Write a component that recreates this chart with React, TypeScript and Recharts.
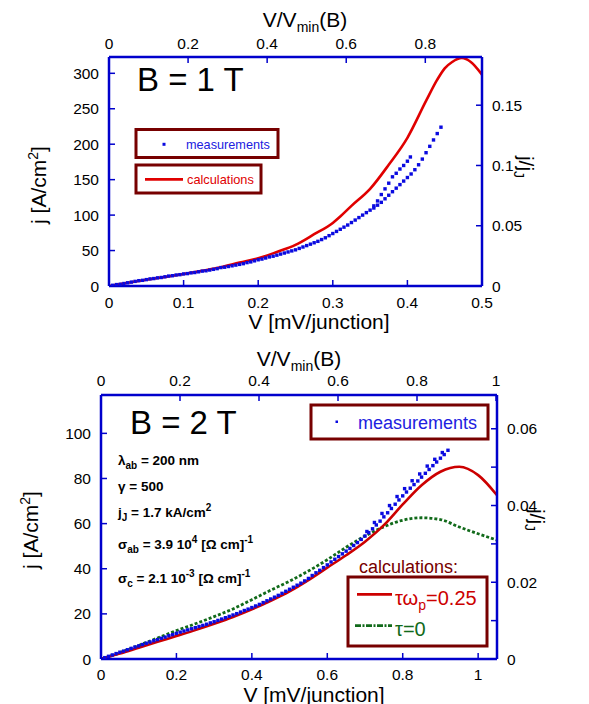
import React from 'react';
import { ComposedChart, Line, Scatter, XAxis, YAxis } from 'recharts';

const FONT = '"Liberation Sans", Arial, Helvetica, sans-serif';

// ---------- B = 1 T panel ----------
const xTicks1T = [0, 0.1, 0.2, 0.3, 0.4, 0.5];
const topTicks1T = [0, 0.2, 0.4, 0.6, 0.8];
const yTicks1T = [0, 50, 100, 150, 200, 250, 300];
const rTicks1T = [0, 0.05, 0.1, 0.15];

const calc1T: number[][] = [
  [0, 0], [0.025, 4.5], [0.05, 8.8], [0.075, 12.8], [0.1, 17], [0.125, 21.5], [0.15, 26.5],
  [0.175, 33], [0.2, 39], [0.225, 48], [0.25, 58], [0.275, 73], [0.3, 89], [0.31, 98],
  [0.325, 113], [0.35, 137], [0.375, 171], [0.4, 209], [0.425, 261], [0.44, 291], [0.45, 307],
  [0.46, 316], [0.473, 321.5], [0.485, 316], [0.5, 298],
];

const meas1TMain: number[][] = [
  [0.005, 1], [0.01, 2], [0.015, 2.5], [0.02, 3.5], [0.025, 4.5], [0.03, 5.5], [0.035, 6.5],
  [0.04, 7.5], [0.045, 8], [0.05, 9], [0.055, 10], [0.06, 10.5], [0.065, 11.5], [0.07, 12],
  [0.075, 13], [0.08, 14], [0.085, 14.5], [0.09, 15.5], [0.095, 16], [0.1, 17], [0.105, 17.5],
  [0.11, 18.5], [0.115, 19], [0.12, 20], [0.125, 21], [0.13, 21.5], [0.135, 22.5], [0.14, 23.5],
  [0.145, 24.5], [0.15, 26], [0.155, 26.5], [0.16, 27.5], [0.165, 28.5], [0.17, 29.5],
  [0.175, 30.5], [0.18, 31.5], [0.185, 33], [0.19, 34], [0.195, 35.5], [0.2, 37], [0.205, 38],
  [0.21, 39.5], [0.215, 41], [0.22, 42], [0.225, 43.5], [0.23, 45], [0.235, 46.5], [0.24, 48],
  [0.245, 49.5], [0.25, 51], [0.255, 53], [0.26, 55], [0.265, 57], [0.27, 59], [0.275, 61],
  [0.28, 63], [0.285, 65.5], [0.29, 68], [0.295, 71], [0.3, 74], [0.305, 77], [0.31, 80],
  [0.315, 83], [0.32, 86], [0.325, 89.5], [0.33, 93], [0.335, 96.5], [0.34, 100], [0.345, 103.5],
  [0.35, 107],
];
const meas1TUpper: number[][] = [
  [0.355, 113], [0.36, 120], [0.365, 129], [0.37, 137], [0.375, 145], [0.38, 154], [0.385, 159],
  [0.39, 165], [0.395, 170], [0.4, 176], [0.404, 182],
];
const meas1TLower: number[][] = [
  [0.355, 110], [0.36, 114], [0.365, 118], [0.37, 123], [0.375, 128], [0.38, 133], [0.385, 138],
  [0.39, 143], [0.395, 148], [0.4, 153], [0.405, 158], [0.41, 164], [0.415, 171], [0.42, 179],
  [0.425, 188], [0.43, 197], [0.435, 206], [0.44, 215], [0.445, 224],
];

// ---------- B = 2 T panel ----------
const xTicks2T = [0, 0.2, 0.4, 0.6, 0.8, 1];
const topTicks2T = [0, 0.2, 0.4, 0.6, 0.8, 1];
const yTicks2T = [0, 20, 40, 60, 80, 100];
const rTicks2T = [0, 0.01, 0.02, 0.03, 0.04, 0.05, 0.06];

const calcTau025: number[][] = [
  [0, 0], [0.05, 2.4], [0.1, 5], [0.15, 7.6], [0.2, 10.2], [0.25, 12.8], [0.3, 15.6], [0.35, 18.6],
  [0.4, 22], [0.45, 25.8], [0.5, 30], [0.55, 35], [0.6, 40.5], [0.65, 46], [0.7, 52], [0.75, 59.3],
  [0.8, 68.5], [0.85, 77], [0.9, 83], [0.95, 85.2], [1.0, 81.5], [1.05, 72.6],
];
const calcTau0: number[][] = [
  [0, 0], [0.05, 2.8], [0.1, 6], [0.15, 9.3], [0.2, 12.6], [0.25, 15.6], [0.3, 18.8], [0.35, 22.2],
  [0.4, 26.3], [0.45, 30.5], [0.5, 34.5], [0.55, 39], [0.6, 44], [0.65, 49.5], [0.7, 54.5],
  [0.75, 58.6], [0.8, 61.5], [0.85, 62.6], [0.9, 61.8], [0.95, 58.5], [1.0, 55.5], [1.05, 52.7],
];
const meas2T: number[][] = [
  [0.01, 0.6], [0.02, 1.2], [0.03, 1.8], [0.04, 2.4], [0.05, 3], [0.06, 3.5], [0.07, 4.1],
  [0.08, 4.7], [0.09, 5.3], [0.1, 5.8], [0.11, 6.4], [0.12, 7], [0.13, 7.5], [0.14, 8.1],
  [0.15, 8.6], [0.16, 9.2], [0.17, 9.7], [0.18, 10.3], [0.19, 10.8], [0.2, 11.4], [0.21, 11.9],
  [0.22, 12.4], [0.23, 12.9], [0.24, 13.4], [0.25, 13.9], [0.26, 14.4], [0.27, 14.9], [0.28, 15.4],
  [0.29, 16], [0.3, 16.5], [0.31, 17.1], [0.32, 17.7], [0.33, 18.3], [0.34, 18.9], [0.35, 19.5],
  [0.36, 20.1], [0.37, 20.8], [0.38, 21.5], [0.39, 22.1], [0.4, 22.8], [0.41, 23.5], [0.42, 24.2],
  [0.43, 25], [0.44, 25.8], [0.45, 26.6], [0.46, 27.4], [0.47, 28.2], [0.48, 29.1], [0.49, 30],
  [0.5, 30.9], [0.51, 31.8], [0.52, 32.7], [0.53, 33.6], [0.54, 34.6], [0.55, 35.7], [0.56, 37],
  [0.57, 38.2], [0.58, 39.3], [0.59, 40.5], [0.6, 41.7], [0.61, 43], [0.62, 44.2], [0.63, 45.4],
  [0.64, 46.6], [0.65, 47.8], [0.66, 49], [0.67, 50.3], [0.68, 51.6], [0.69, 53], [0.7, 54.5],
  [0.71, 56], [0.72, 57.7], [0.73, 59.4], [0.74, 61.1], [0.75, 63], [0.76, 64.8], [0.77, 66.7],
  [0.78, 68.6], [0.79, 70.5], [0.8, 72.3], [0.81, 74], [0.82, 75.7], [0.83, 77.3], [0.84, 78.9],
  [0.85, 80.6], [0.86, 82.3], [0.87, 84], [0.88, 85.7], [0.89, 87.3], [0.9, 89], [0.91, 90.6],
];
const meas2TExtra: number[][] = [
  [0.705, 56.5], [0.725, 60.5], [0.745, 64.5], [0.765, 68], [0.785, 72], [0.805, 75.5],
  [0.825, 79], [0.845, 82], [0.865, 85.5], [0.885, 88.5], [0.905, 91.5], [0.92, 92.5],
];

const toPts = (arr: number[][]) => arr.map(([v, j]) => ({ v, j }));
const anchorPts = (ticks: number[]) => ticks.map((u) => ({ u, j: 0 }));

const BLUE = '#0000cc';
const DOT = '#0a0ae0';
const MAROON = '#770000';

const tickStyle = { fontSize: 15.5, fill: '#000', fontFamily: FONT };

const dotShape = (props: any) => (
  <rect x={props.cx - 1.7} y={props.cy - 1.7} width={3.4} height={3.4} fill={DOT} />
);
const noShape = () => <g />;

const axisCommon = {
  axisLine: { stroke: BLUE, strokeWidth: 2.5 },
  tickLine: { stroke: BLUE, strokeWidth: 1.5 },
  tickSize: -6,
  tick: tickStyle,
  interval: 0 as const,
};

function Top() {
  return (
    <ComposedChart width={589} height={340} margin={{ top: 27, right: 57, bottom: 24, left: 59 }}>
      <XAxis type="number" dataKey="v" domain={[0, 0.5]} ticks={xTicks1T} allowDataOverflow height={30}
        tickMargin={17} {...axisCommon} />
      <XAxis xAxisId="top" orientation="top" type="number" dataKey="u" domain={[0, 0.9434]} ticks={topTicks1T}
        allowDataOverflow height={30} tickMargin={14.5} {...axisCommon} />
      <YAxis type="number" dataKey="j" domain={[0, 323]} ticks={yTicks1T} allowDataOverflow width={50}
        tickMargin={16} {...axisCommon} />
      <YAxis yAxisId="right" orientation="right" type="number" domain={[0, 0.19]} ticks={rTicks1T}
        allowDataOverflow width={50} tickMargin={16} {...axisCommon} />
      <Scatter xAxisId="top" data={anchorPts(topTicks1T)} dataKey="j" shape={noShape} isAnimationActive={false} />
      <Line data={toPts(calc1T)} dataKey="j" type="monotone" stroke="#e00000" strokeWidth={2.6}
        dot={false} isAnimationActive={false} />
      <Scatter data={toPts(meas1TMain)} dataKey="j" shape={dotShape} isAnimationActive={false} />
      <Scatter data={toPts(meas1TUpper)} dataKey="j" shape={dotShape} isAnimationActive={false} />
      <Scatter data={toPts(meas1TLower)} dataKey="j" shape={dotShape} isAnimationActive={false} />
    </ComposedChart>
  );
}

function Bottom() {
  return (
    <ComposedChart width={589} height={364} margin={{ top: 25, right: 42, bottom: 15, left: 51 }}>
      <XAxis type="number" dataKey="v" domain={[0, 1.05]} ticks={xTicks2T} allowDataOverflow height={30}
        tickMargin={15.5} {...axisCommon} />
      <XAxis xAxisId="top" orientation="top" type="number" dataKey="u" domain={[0, 1.0025]} ticks={topTicks2T}
        allowDataOverflow height={30} tickMargin={15.5} {...axisCommon} />
      <YAxis type="number" dataKey="j" domain={[0, 117]} ticks={yTicks2T} allowDataOverflow width={50}
        tickMargin={16} {...axisCommon} />
      <YAxis yAxisId="right" orientation="right" type="number" domain={[0, 0.0688]} ticks={rTicks2T}
        allowDataOverflow width={50} tickMargin={16} {...axisCommon}
        tickFormatter={(val: number, i: number) => (i % 2 === 0 ? String(val) : '')} />
      <Scatter xAxisId="top" data={anchorPts(topTicks2T)} dataKey="j" shape={noShape} isAnimationActive={false} />
      <Line data={toPts(calcTau0)} dataKey="j" type="monotone" stroke="#116a1a" strokeWidth={2.8}
        strokeDasharray="3 2" dot={false} isAnimationActive={false} />
      <Line data={toPts(calcTau025)} dataKey="j" type="monotone" stroke="#cc0000" strokeWidth={2.6}
        dot={false} isAnimationActive={false} />
      <Scatter data={toPts(meas2T)} dataKey="j" shape={dotShape} isAnimationActive={false} />
      <Scatter data={toPts(meas2TExtra)} dataKey="j" shape={dotShape} isAnimationActive={false} />
    </ComposedChart>
  );
}

function Overlay() {
  const t = { fontFamily: FONT, fill: '#000' };
  return (
    <svg width={589} height={704} style={{ position: 'absolute', left: 0, top: 0, pointerEvents: 'none' }}>
      {/* ---- top panel texts ---- */}
      <text x={305} y={27} fontSize={21} textAnchor="middle" {...t}>
        V/V<tspan fontSize={14} dy={5}>min</tspan><tspan dy={-5}>(B)</tspan>
      </text>
      <text x={319} y={329} fontSize={21} textAnchor="middle" {...t}>V [mV/junction]</text>
      <text x={46} y={185} fontSize={21} textAnchor="middle" transform="rotate(-90 46 185)" {...t}>
        j [A/cm<tspan fontSize={14} dy={-8}>2</tspan><tspan dy={8}>]</tspan>
      </text>
      <text x={519} y={167} fontSize={21} textAnchor="middle" transform="rotate(90 519 167)" {...t}>
        j/j<tspan fontSize={14} dy={5}>J</tspan>
      </text>
      <text x={137} y={90.5} fontSize={33} {...t}>B = 1 T</text>

      <rect x={136} y={129.5} width={142} height={28} fill="#fff" stroke={MAROON} strokeWidth={3} />
      <rect x={162.5} y={142.8} width={3} height={3} fill={DOT} />
      <text x={186} y={149} fontSize={12.7} fontFamily={FONT} fill="#2020e0">measurements</text>
      <rect x={136} y={165} width={125} height={28} fill="#fff" stroke={MAROON} strokeWidth={3} />
      <line x1={145} y1={179.3} x2={183} y2={179.3} stroke="#e00000" strokeWidth={2.8} />
      <text x={187} y={183.5} fontSize={12.8} fontFamily={FONT} fill="#e00000">calculations</text>

      {/* ---- bottom panel texts ---- */}
      <text x={299} y={366} fontSize={21} textAnchor="middle" {...t}>
        V/V<tspan fontSize={14} dy={5}>min</tspan><tspan dy={-5}>(B)</tspan>
      </text>
      <text x={314} y={702} fontSize={21} textAnchor="middle" {...t}>V [mV/junction]</text>
      <text x={38} y={530} fontSize={21} textAnchor="middle" transform="rotate(-90 38 530)" {...t}>
        j [A/cm<tspan fontSize={14} dy={-8}>2</tspan><tspan dy={8}>]</tspan>
      </text>
      <text x={530} y={520} fontSize={21} textAnchor="middle" transform="rotate(90 530 520)" {...t}>
        j/j<tspan fontSize={14} dy={5}>J</tspan>
      </text>
      <text x={130} y={434} fontSize={33} {...t}>B = 2 T</text>

      <g fontWeight="bold" fontSize={13.5} {...t}>
        <text x={118} y={465}>λ<tspan fontSize={10} dy={4}>ab</tspan><tspan dy={-4}> = 200 nm</tspan></text>
        <text x={118} y={491}>γ = 500</text>
        <text x={118} y={517}>j<tspan fontSize={10} dy={4}>J</tspan><tspan dy={-4}> = 1.7 kA/cm</tspan><tspan fontSize={10} dy={-6}>2</tspan></text>
        <text x={118} y={549}>σ<tspan fontSize={10} dy={4}>ab</tspan><tspan dy={-4}> = 3.9 10</tspan><tspan fontSize={10} dy={-6}>4</tspan><tspan dy={6}> [Ω cm]</tspan><tspan fontSize={10} dy={-6}>-1</tspan></text>
        <text x={118} y={583}>σ<tspan fontSize={10} dy={4}>c</tspan><tspan dy={-4}> = 2.1 10</tspan><tspan fontSize={10} dy={-6}>-3</tspan><tspan dy={6}> [Ω cm]</tspan><tspan fontSize={10} dy={-6}>-1</tspan></text>
      </g>

      <rect x={311} y={405} width={177} height={34} fill="#fff" stroke={MAROON} strokeWidth={3} />
      <rect x={335.5} y={420.5} width={2.5} height={2.5} fill={DOT} />
      <text x={358} y={428.5} fontSize={18} fontFamily={FONT} fill="#2020e0">measurements</text>

      <text x={359} y={573} fontSize={18} fontFamily={FONT} fill={MAROON}>calculations:</text>
      <rect x={348} y={577} width={139} height={69} fill="#fff" stroke={MAROON} strokeWidth={3} />
      <line x1={357} y1={594.3} x2={392} y2={594.3} stroke="#cc0000" strokeWidth={2.8} />
      <text x={395} y={605} fontSize={20} fontFamily={FONT} fill="#cc0000">
        τω<tspan fontSize={14} dy={5}>p</tspan><tspan dy={-5}>=0.25</tspan>
      </text>
      <line x1={355} y1={625.7} x2={392} y2={625.7} stroke="#116a1a" strokeWidth={2.8} strokeDasharray="6 1.5 2 1.5" />
      <text x={395} y={636} fontSize={20} fontFamily={FONT} fill="#116a1a">τ=0</text>
    </svg>
  );
}

export default function App() {
  return (
    <div style={{ position: 'absolute', left: 0, top: 0, width: 589, height: 704, background: '#fff', overflow: 'hidden' }}>
      <div style={{ position: 'absolute', left: 0, top: 0 }}>
        <Top />
      </div>
      <div style={{ position: 'absolute', left: 0, top: 340 }}>
        <Bottom />
      </div>
      <Overlay />
    </div>
  );
}
